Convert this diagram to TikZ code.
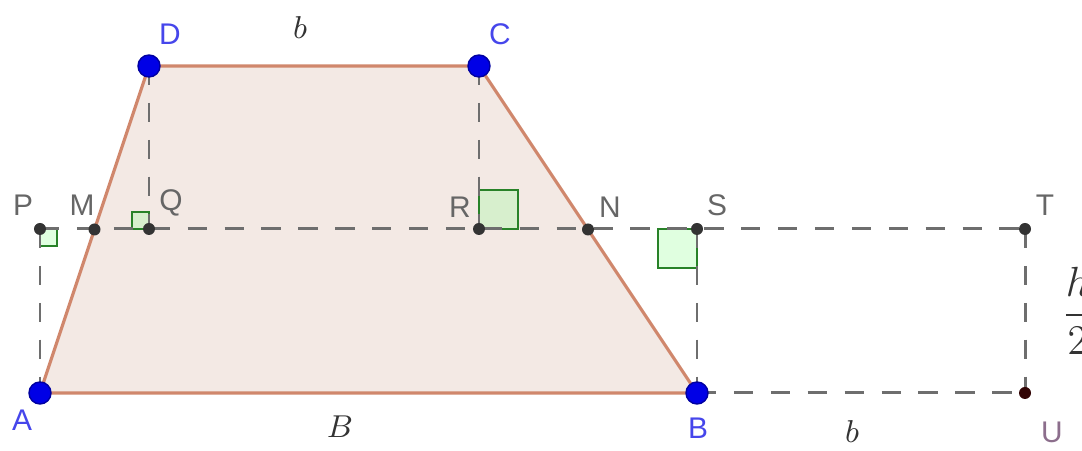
\documentclass[tikz,border=0pt]{standalone}
\usepackage{fontspec}
\setsansfont{Liberation Sans}
\usepackage{xcolor}
\usetikzlibrary{math,calc}

\definecolor{trapfill}{RGB}{243,233,228}
\definecolor{trapedge}{RGB}{208,135,108}
\definecolor{ptblue}{RGB}{0,0,230}
\definecolor{lblblue}{RGB}{70,70,235}
\definecolor{dashgray}{RGB}{110,110,110}
\definecolor{rightgreen}{RGB}{40,130,40}
\definecolor{ulabel}{RGB}{140,110,140}

\tikzset{
  dashline/.style={dashgray, line width=0.85pt, dash pattern=on 5.5pt off 5pt},
  bigdot/.style={circle, fill=ptblue, draw=ptblue!70!black, inner sep=0pt, minimum size=0.22cm},
  smalldot/.style={circle, fill=black!80, inner sep=0pt, minimum size=0.12cm},
  ptlabel/.style={font=\sffamily\fontsize{8.5}{10}\selectfont},
  rangle/.style={draw=rightgreen, fill=green!40!white, fill opacity=0.3, line width=0.6pt},
  mathlabel/.style={text=black!80, font=\fontsize{9.5}{11}\selectfont}
}

\begin{document}
\begin{tikzpicture}
\tikzmath{
\yb=0.58;
\yt=3.85;
\ym=2.22;
\sq=0.17;
\Sq=0.39;
}
\useasboundingbox (0,0) rectangle (10.82,4.51);

% corners of the trapezoid
\coordinate (A) at (0.40,\yb);
\coordinate (B) at (6.97,\yb);
\coordinate (C) at (4.79,\yt);
\coordinate (D) at (1.49,\yt);
% points on the mid line
\coordinate (P) at (0.40,\ym);
\coordinate (M) at ($(A)!0.5!(D)$);
\coordinate (Q) at (1.49,\ym);
\coordinate (R) at (4.79,\ym);
\coordinate (N) at ($(B)!0.5!(C)$);
\coordinate (S) at (6.97,\ym);
\coordinate (T) at (10.25,\ym);
\coordinate (U) at (10.25,\yb);

\fill[trapfill] (A) -- (B) -- (C) -- (D) -- cycle;

% right angles
\draw[rangle] (P) rectangle +(\sq,-\sq);
\draw[rangle] (Q) rectangle +(-\sq,\sq);
\draw[rangle] (R) rectangle +(\Sq,\Sq);
\draw[rangle] (S) rectangle +(-\Sq,-\Sq);

\draw[dashline] (P) -- (T);
\draw[dashline] (P) -- (A);
\draw[dashline] (D) -- (Q);
\draw[dashline] (C) -- (R);
\draw[dashline] (S) -- (B);
\draw[dashline] (T) -- (U);
\draw[dashline] (B) -- (U);

\draw[trapedge, line width=0.9pt] (A) -- (B) -- (C) -- (D) -- cycle;

\foreach \p in {P,M,Q,R,N,S,T}
  \node[smalldot] (dot\p) at (\p) {};
\node[smalldot, fill={rgb,255:red,50;green,5;blue,5}] (dotU) at (U) {};
\foreach \p in {A,B,C,D}
  \node[bigdot] (dot\p) at (\p) {};

% point names
\node[ptlabel, text=lblblue] (labD) at (1.70,4.17) {D};
\node[ptlabel, text=lblblue] (labC) at (5.00,4.17) {C};
\node[ptlabel, text=lblblue] (labA) at (0.22,0.31) {A};
\node[ptlabel, text=lblblue] (labB) at (6.98,0.23) {B};
\node[ptlabel, text=black!60] (labP) at (0.23,2.46) {P};
\node[ptlabel, text=black!60] (labM) at (0.82,2.46) {M};
\node[ptlabel, text=black!60] (labQ) at (1.71,2.48) {Q};
\node[ptlabel, text=black!60] (labR) at (4.60,2.44) {R};
\node[ptlabel, text=black!60] (labN) at (6.10,2.44) {N};
\node[ptlabel, text=black!60] (labS) at (7.17,2.46) {S};
\node[ptlabel, text=black!60] (labT) at (10.45,2.46) {T};
\node[ptlabel, text=ulabel] (labU) at (10.52,0.19) {U};

% lengths
\node[mathlabel] (lenb) at (3.00,4.23) {$b$};
\node[mathlabel] (lenB) at (3.40,0.24) {$B$};
\node[mathlabel] (lenbb) at (8.52,0.19) {$b$};
\node[mathlabel, font=\fontsize{11.5}{13}\selectfont, anchor=west, inner sep=0pt] (lenh) at (10.61,1.40) {$\displaystyle\frac{h}{2}$};

\end{tikzpicture}
\end{document}
